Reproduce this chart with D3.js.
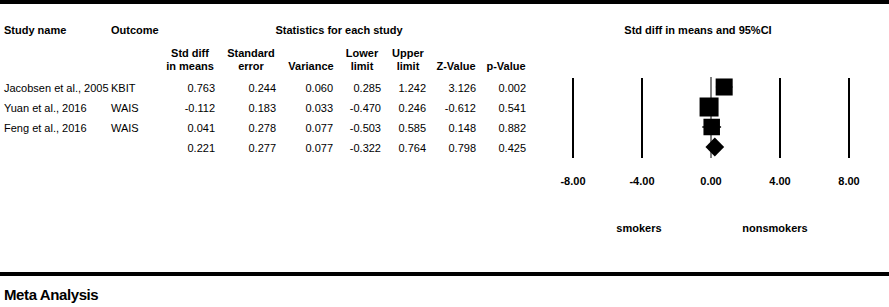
<!DOCTYPE html>
<html>
<head>
<meta charset="utf-8">
<script src="https://cdn.jsdelivr.net/npm/d3@7"></script>
<style>
  body { margin: 0; background: #fff; }
  text { font-family: "Liberation Sans", Arial, sans-serif; fill: #000; }
</style>
</head>
<body>
<div id="chart"></div>
<script>
// data
const studies = ["Jacobsen et al., 2005", "Yuan et al., 2016", "Feng et al., 2016", ""];
const outcomes = ["KBIT", "WAIS", "WAIS", ""];
const stdDiff = [0.763, -0.112, 0.041, 0.221];
const stdErr = [0.244, 0.183, 0.278, 0.277];
const variance = [0.060, 0.033, 0.077, 0.077];
const lower = [0.285, -0.470, -0.503, -0.322];
const upper = [1.242, 0.246, 0.585, 0.764];
const zValue = [3.126, -0.612, 0.148, 0.798];
const pValue = [0.002, 0.541, 0.882, 0.425];
const ticks = [-8, -4, 0, 4, 8];
const favours = ["smokers", "nonsmokers"];

// plain hyphen for negatives, like the original
const loc = d3.formatLocale({ decimal: ".", thousands: ",", grouping: [3], currency: ["", ""], minus: "-" });
const f3 = loc.format(".3f");
const f2 = loc.format(".2f");

const W = 889, H = 307;
const svg = d3.select("#chart").append("svg")
    .attr("width", W).attr("height", H);

// thick rules top and bottom
svg.append("rect").attr("x", 0).attr("y", 0).attr("width", W).attr("height", 4).attr("fill", "#000");
svg.append("rect").attr("x", 0).attr("y", 272).attr("width", W).attr("height", 4).attr("fill", "#000");

svg.append("text")
    .attr("x", 4).attr("y", 300)
    .attr("font-size", "15px").attr("font-weight", "bold")
    .attr("letter-spacing", "-0.4px")
    .text("Meta Analysis");

// rows
const rowIdx = d3.range(studies.length);
const y = d3.scalePoint().domain(rowIdx).range([88, 148]);

const fs = "11px";

// top headers
svg.append("text").attr("x", 4).attr("y", 34).attr("font-size", fs)
    .attr("font-weight", "bold").text("Study name");
svg.append("text").attr("x", 111).attr("y", 34).attr("font-size", fs)
    .attr("font-weight", "bold").text("Outcome");
svg.append("text").attr("x", 339).attr("y", 34).attr("font-size", fs)
    .attr("font-weight", "bold").attr("text-anchor", "middle").text("Statistics for each study");
svg.append("text").attr("x", 698).attr("y", 34).attr("font-size", fs)
    .attr("font-weight", "bold").attr("text-anchor", "middle").text("Std diff in means and 95%CI");

// numeric columns
const columns = [
    { head: ["Std diff", "in means"], vals: stdDiff, right: 215, mid: 190 },
    { head: ["Standard", "error"], vals: stdErr, right: 276, mid: 251 },
    { head: ["", "Variance"], vals: variance, right: 333, mid: 311 },
    { head: ["Lower", "limit"], vals: lower, right: 381, mid: 362 },
    { head: ["Upper", "limit"], vals: upper, right: 426, mid: 408 },
    { head: ["", "Z-Value"], vals: zValue, right: 476, mid: 456 },
    { head: ["", "p-Value"], vals: pValue, right: 526, mid: 506 }
];

columns.forEach(function(c) {
    c.head.forEach(function(h, i) {
        svg.append("text")
            .attr("x", c.mid).attr("y", 57 + i * 13)
            .attr("font-size", fs).attr("font-weight", "bold")
            .attr("text-anchor", "middle")
            .text(h);
    });
    svg.selectAll(null).data(c.vals).enter().append("text")
        .attr("x", c.right)
        .attr("y", function(d, i) { return y(i) + 4; })
        .attr("font-size", fs)
        .attr("text-anchor", "end")
        .text(function(d) { return f3(d); });
});

svg.selectAll(null).data(studies).enter().append("text")
    .attr("x", 4).attr("y", function(d, i) { return y(i) + 4; })
    .attr("font-size", fs).text(function(d) { return d; });
svg.selectAll(null).data(outcomes).enter().append("text")
    .attr("x", 111).attr("y", function(d, i) { return y(i) + 4; })
    .attr("font-size", fs).text(function(d) { return d; });

// forest plot
const x = d3.scaleLinear().domain([-8, 8]).range([573, 849]);
const plotTop = 78, plotBottom = 158;

svg.selectAll(null).data(ticks.filter(function(t) { return t !== 0; })).enter().append("line")
    .attr("x1", function(d) { return x(d); }).attr("x2", function(d) { return x(d); })
    .attr("y1", plotTop).attr("y2", plotBottom)
    .attr("stroke", "#000").attr("stroke-width", 2);
svg.append("line")
    .attr("x1", x(0)).attr("x2", x(0))
    .attr("y1", plotTop - 1).attr("y2", plotBottom)
    .attr("stroke", "#000").attr("stroke-width", 1);

svg.selectAll(null).data(ticks).enter().append("text")
    .attr("x", function(d) { return x(d); }).attr("y", 185)
    .attr("font-size", fs).attr("font-weight", "bold")
    .attr("text-anchor", "middle")
    .text(function(d) { return f2(d); });

svg.selectAll(null).data(favours).enter().append("text")
    .attr("x", function(d, i) { return i === 0 ? x(-4) - 3 : x(4) - 5; })
    .attr("y", 232)
    .attr("font-size", fs).attr("font-weight", "bold")
    .attr("text-anchor", "middle")
    .text(function(d) { return d; });

const studyRows = rowIdx.slice(0, 3);
const weight = studyRows.map(function(i) { return 1 / variance[i]; });
const size = d3.scaleLinear().domain(d3.extent(weight)).range([16.5, 19]);

svg.selectAll(null).data(studyRows).enter().append("line")
    .attr("x1", function(i) { return x(lower[i]); })
    .attr("x2", function(i) { return x(upper[i]); })
    .attr("y1", function(i) { return y(i) - 1; })
    .attr("y2", function(i) { return y(i) - 1; })
    .attr("stroke", "#000").attr("stroke-width", 1.5);

svg.selectAll(null).data(studyRows).enter().append("rect")
    .attr("x", function(i) { return x(stdDiff[i]) - size(weight[i]) / 2; })
    .attr("y", function(i) { return y(i) - 1 - size(weight[i]) / 2; })
    .attr("width", function(i) { return size(weight[i]); })
    .attr("height", function(i) { return size(weight[i]); })
    .attr("fill", "#000");

// summary diamond
const s = 3, cy = y(s) - 1, hh = 9.5;
svg.append("path")
    .attr("d", "M" + x(lower[s]) + "," + cy +
        "L" + x(stdDiff[s]) + "," + (cy - hh) +
        "L" + x(upper[s]) + "," + cy +
        "L" + x(stdDiff[s]) + "," + (cy + hh) + "Z")
    .attr("fill", "#000");
</script>
</body>
</html>
